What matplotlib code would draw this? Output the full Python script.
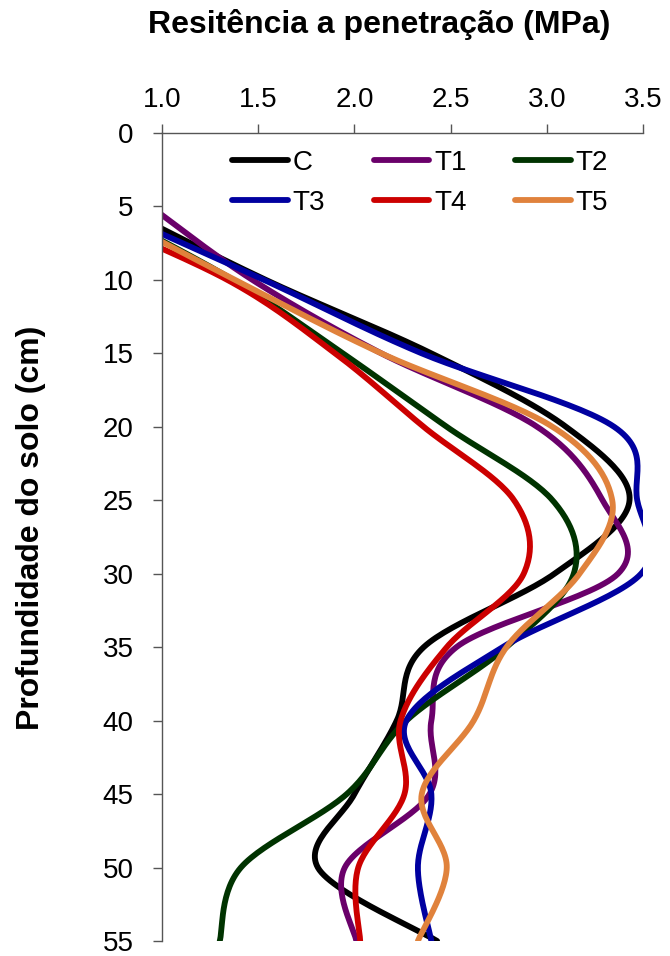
#penetration resistance profiles per treatment, smoothed lines like excel

import numpy as np
from matplotlib import pyplot as plt

plt.rcParams['font.family'] = ['Liberation Sans', 'DejaVu Sans']

#depth in cm
depth = [5, 10, 15, 20, 25, 30, 35, 40, 45, 50, 55]

#resistance in MPa
c  = [0.77, 1.54, 2.40, 3.10, 3.43, 3.04, 2.36, 2.22, 2.00, 1.81, 2.43]
t1 = [0.94, 1.47, 2.14, 2.95, 3.29, 3.37, 2.53, 2.40, 2.39, 1.95, 2.01]
t2 = [0.66, 1.37, 1.94, 2.48, 3.03, 3.14, 2.79, 2.27, 1.96, 1.41, 1.30]
t3 = [0.68, 1.53, 2.35, 3.35, 3.47, 3.49, 2.77, 2.27, 2.40, 2.33, 2.40]
t4 = [0.49, 1.34, 1.90, 2.36, 2.83, 2.88, 2.48, 2.24, 2.26, 2.02, 2.03]
t5 = [0.65, 1.38, 2.14, 3.03, 3.34, 3.17, 2.79, 2.62, 2.35, 2.48, 2.33]

names = ["C", "T1", "T2", "T3", "T4", "T5"]
colors = ["#000000", "#6a006a", "#003300", "#0000a0", "#cc0000", "#e0823c"]


def smooth(x, y, n=30):
    #catmull-rom through the points (what excel does for smoothed lines)
    p = np.column_stack([x, y]).astype(float)
    p = np.vstack([p[0], p, p[-1]])
    out = []
    t = np.linspace(0, 1, n, endpoint=False)[:, None]
    for i in range(1, len(p) - 2):
        p0, p1, p2, p3 = p[i-1], p[i], p[i+1], p[i+2]
        seg = 0.5 * ((2*p1) + (-p0 + p2)*t + (2*p0 - 5*p1 + 4*p2 - p3)*t**2
                     + (-p0 + 3*p1 - 3*p2 + p3)*t**3)
        out.append(seg)
    out.append(p[-2][None, :])
    out = np.vstack(out)
    return out[:, 0], out[:, 1]


fig = plt.figure(figsize=(6.7, 9.56), dpi=100)
ax = fig.add_axes([162/670, 1-941/956, 481/670, 808/956])

lines = {}
for vals, name, col in zip([c, t1, t2, t3, t4, t5], names, colors):
    xs, ys = smooth(vals, depth)
    lines[name], = ax.plot(xs, ys, color=col, lw=4.2, label=name, solid_capstyle='round')

ax.set_xlim(1.0, 3.5)
ax.set_ylim(55, 0)
ax.xaxis.tick_top()
ax.xaxis.set_label_position('top')
ax.set_xticks(np.arange(1.0, 3.51, 0.5))
ax.set_xticklabels(["1.0", "1.5", "2.0", "2.5", "3.0", "3.5"])
ax.set_yticks(range(0, 56, 5))
ax.spines['right'].set_visible(False)
ax.spines['bottom'].set_visible(False)
for s in ['top', 'left']:
    ax.spines[s].set_color('#555555')
    ax.spines[s].set_linewidth(1.0)
ax.tick_params(axis='x', length=6.5, width=1, pad=8, labelsize=20, color='#555555')
ax.tick_params(axis='y', length=6.5, width=1, pad=14, labelsize=20, color='#555555')

ax.set_xlabel("Resitência a penetração (MPa)", fontsize=23, fontweight='bold')
ax.xaxis.set_label_coords(0.451, 1.1238)
ax.set_ylabel("Profundidade do solo (cm)", fontsize=23, fontweight='bold')
ax.yaxis.set_label_coords(-0.241, 0.511)

#legend filled row by row: C T1 T2 / T3 T4 T5
order = ["C", "T3", "T1", "T4", "T2", "T5"]
ax.legend([lines[k] for k in order], order, ncol=3, frameon=False, fontsize=20,
          loc='upper left', bbox_to_anchor=(0.1455, 0.979), borderpad=0,
          borderaxespad=0, handlelength=2.0, handletextpad=0.18,
          columnspacing=1.75, labelspacing=0.5)

fig.savefig("out.png", dpi=100)
